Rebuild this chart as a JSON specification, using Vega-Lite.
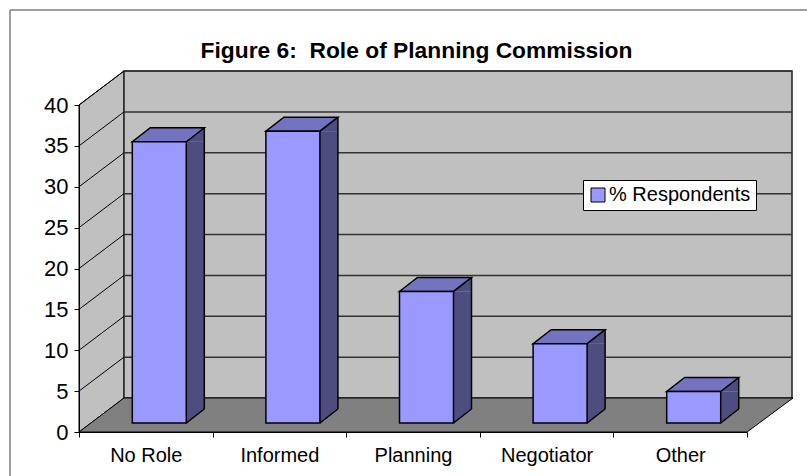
{
"$schema":"https://vega.github.io/schema/vega-lite/v6.json",
"width":807,"height":476,"padding":0,"autosize":"none","background":"#ffffff",
"view":{"stroke":null},
"config":{"font":"Liberation Sans"},
"title":{"text":"Figure 6:\u00a0 Role of Planning Commission","font":"Liberation Sans","fontWeight":"bold","fontSize":22.8,"color":"#000000","anchor":"middle","offset":-63,"dx":13},
"datasets":{
"bars":[{"role":"No Role","pct":34.4},{"role":"Informed","pct":35.7},{"role":"Planning","pct":16.1},{"role":"Negotiator","pct":9.7},{"role":"Other","pct":3.85}],
"ticks":[{"t":5},{"t":10},{"t":15},{"t":20},{"t":25},{"t":30},{"t":35},{"t":40}],
"dia":[{"t":5},{"t":10},{"t":15},{"t":20},{"t":25},{"t":30},{"t":35},{"t":40}],
"frame":[{"k":"frame"}]
},
"resolve":{"scale":{"x":"independent"}},
"layer":[
{"data":{"name":"frame"},"mark":{"type":"point","shape":"M10,-422 L807,-422 M10,-422 L10,44","filled":false,"stroke":"#808080","strokeWidth":1.5,"size":4,"opacity":1},
 "encoding":{"x":{"datum":0,"type":"quantitative","scale":{"domain":[0,807],"range":[0,807]},"axis":null},"y":{"datum":0,"type":"quantitative","scale":{"domain":[0,40],"range":[432,105]},"axis":{"orient":"left","offset":-79,"values":[0,5,10,15,20,25,30,35,40],"grid":false,"title":null,"tickSize":5,"tickColor":"#000000","domainColor":"#000000","labelColor":"#000000","labelFont":"Liberation Sans","labelFontSize":22,"labelPadding":6,"zindex":1}}}},
{"data":{"name":"frame"},"mark":{"type":"point","shape":"M0,0 L45,-34 L45,-361 L0,-327 Z","filled":true,"fill":"#c0c0c0","stroke":"#000000","strokeWidth":1,"size":4,"opacity":1},
 "encoding":{"x":{"datum":0,"type":"quantitative","scale":{"domain":[0,5],"range":[79,747]},"axis":null},"y":{"datum":0,"type":"quantitative"}}},
{"data":{"name":"frame"},"mark":{"type":"rect","fill":"#c0c0c0","stroke":"#222222","strokeWidth":1.5,"xOffset":45,"x2Offset":45,"yOffset":-34,"y2Offset":-34},
 "encoding":{"x":{"datum":0,"type":"quantitative","scale":{"domain":[0,5],"range":[79,747]},"axis":null},"x2":{"datum":5},"y":{"datum":0,"type":"quantitative"},"y2":{"datum":40}}},
{"data":{"name":"frame"},"mark":{"type":"point","shape":"M0,0 L668,0 L714,-34 L45,-34 Z","filled":true,"fill":"#808080","stroke":"#000000","strokeWidth":1,"size":4,"opacity":1},
 "encoding":{"x":{"datum":0,"type":"quantitative","scale":{"domain":[0,5],"range":[79,747]},"axis":null},"y":{"datum":0,"type":"quantitative"}}},
{"data":{"name":"ticks"},"mark":{"type":"rule","stroke":"#333333","strokeWidth":1.5,"xOffset":45,"x2Offset":45,"yOffset":-34},
 "encoding":{"x":{"datum":0,"type":"quantitative","scale":{"domain":[0,5],"range":[79,747]},"axis":null},"x2":{"datum":5},"y":{"field":"t","type":"quantitative"}}},
{"data":{"name":"dia"},"mark":{"type":"point","shape":"M0,0 L45,-34","filled":false,"stroke":"#000000","strokeWidth":1,"size":4,"opacity":1},
 "encoding":{"x":{"datum":0,"type":"quantitative","scale":{"domain":[0,5],"range":[79,747]},"axis":null},"y":{"field":"t","type":"quantitative"}}},
{"data":{"name":"bars"},"mark":{"type":"bar","width":18,"fill":"#4d4d80","xOffset":49.5,"yOffset":-9,"y2Offset":-23},
 "encoding":{"x":{"field":"role","type":"nominal","sort":null,"scale":{"type":"band","paddingInner":0,"paddingOuter":0,"range":[79,747]},"axis":null},"y":{"field":"pct","type":"quantitative"},"y2":{"datum":0}}},
{"data":{"name":"bars"},"mark":{"type":"point","shape":"M40.5,-9 L58.5,-23 L58.5,-9 Z","filled":true,"fill":"#4d4d80","stroke":null,"size":4,"opacity":1},
 "encoding":{"x":{"field":"role","type":"nominal","sort":null,"scale":{"type":"band","paddingInner":0,"paddingOuter":0,"range":[79,747]},"axis":null},"y":{"field":"pct","type":"quantitative"}}},
{"data":{"name":"bars"},"mark":{"type":"point","shape":"M40.5,-9 L58.5,-23 L40.5,-23 Z","filled":true,"fill":"#4d4d80","stroke":null,"size":4,"opacity":1},
 "encoding":{"x":{"field":"role","type":"nominal","sort":null,"scale":{"type":"band","paddingInner":0,"paddingOuter":0,"range":[79,747]},"axis":null},"y":{"datum":0,"type":"quantitative"},"detail":{"field":"pct"}}},
{"data":{"name":"bars"},"mark":{"type":"point","shape":"M40.5,-9 L58.5,-23","filled":false,"stroke":"#000000","strokeWidth":1.5,"size":4,"opacity":1},
 "encoding":{"x":{"field":"role","type":"nominal","sort":null,"scale":{"type":"band","paddingInner":0,"paddingOuter":0,"range":[79,747]},"axis":null},"y":{"datum":0,"type":"quantitative"},"detail":{"field":"pct"}}},
{"data":{"name":"bars"},"mark":{"type":"rule","stroke":"#000000","strokeWidth":1.5,"xOffset":58.5,"yOffset":-23,"y2Offset":-23},
 "encoding":{"x":{"field":"role","type":"nominal","sort":null,"scale":{"type":"band","paddingInner":0,"paddingOuter":0,"range":[79,747]},"axis":null},"y":{"field":"pct","type":"quantitative"},"y2":{"datum":0}}},
{"data":{"name":"bars"},"mark":{"type":"point","shape":"M-13.5,-9 L40.5,-9 L58.5,-23 L4.5,-23 Z","filled":true,"fill":"#7373bf","stroke":"#000000","strokeWidth":1.5,"size":4,"opacity":1},
 "encoding":{"x":{"field":"role","type":"nominal","sort":null,"scale":{"type":"band","paddingInner":0,"paddingOuter":0,"range":[79,747]},"axis":null},"y":{"field":"pct","type":"quantitative"}}},
{"data":{"name":"bars"},"mark":{"type":"bar","width":54,"stroke":"#000000","strokeWidth":1.5,"xOffset":13.5,"yOffset":-9,"y2Offset":-9},
 "encoding":{"x":{"field":"role","type":"nominal","sort":null,"scale":{"type":"band","paddingInner":0,"paddingOuter":0,"range":[79,747]},"axis":{"orient":"bottom","offset":-44,"title":null,"labelAngle":0,"tickBand":"extent","tickSize":5,"tickColor":"#000000","domainColor":"#000000","labelColor":"#000000","labelFont":"Liberation Sans","labelFontSize":20,"labelPadding":8,"zindex":1}},"y":{"field":"pct","type":"quantitative"},"y2":{"datum":0},
 "color":{"datum":"% Respondents","type":"nominal","scale":{"range":["#9999ff"]},"legend":{"orient":"none","legendX":583,"legendY":180,"title":null,"fillColor":"#ffffff","strokeColor":"#000000","padding":5,"symbolType":"square","symbolSize":196,"symbolStrokeColor":"#000000","symbolStrokeWidth":1,"labelOffset":1,"labelFont":"Liberation Sans","labelFontSize":20,"labelColor":"#000000"}}}}
]
}
